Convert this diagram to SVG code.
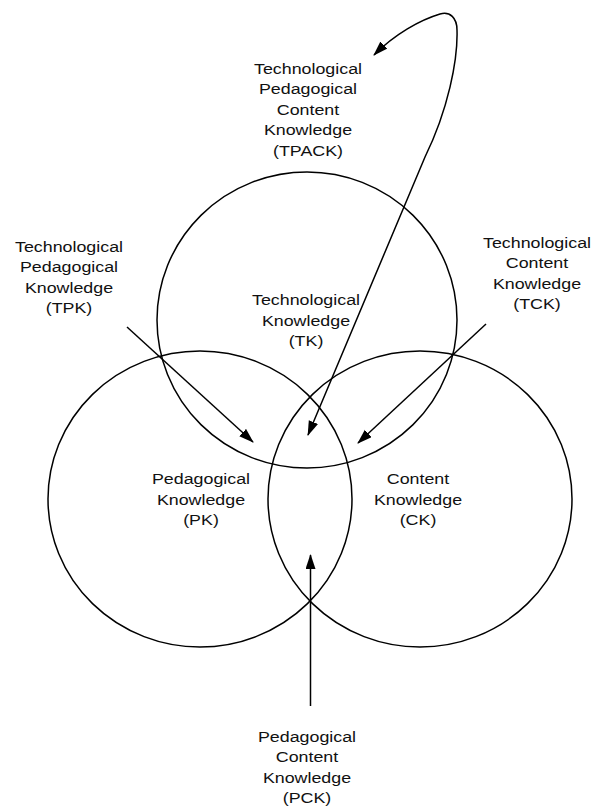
<svg xmlns="http://www.w3.org/2000/svg" width="595" height="808" viewBox="0 0 595 808">
<defs>
<style>
.c{fill:none;stroke:#000;stroke-width:1.5}
.l{fill:none;stroke:#000;stroke-width:1.5}
text{font-family:"Liberation Sans",Arial,sans-serif;font-size:15px;fill:#111;text-anchor:middle}
</style>
<marker id="ah" markerUnits="userSpaceOnUse" markerWidth="16" markerHeight="12" refX="14" refY="5" orient="auto-start-reverse" viewBox="0 0 16 12">
<path d="M0,0 L15,5 L0,10 z" fill="#000"/>
</marker>
</defs>
<rect width="595" height="808" fill="#fff"/>
<g id="tk">
<ellipse class="c" cx="307" cy="320" rx="150" ry="148"/>
<text transform="translate(306 305) scale(1.19 1)"><tspan x="0">Technological</tspan><tspan x="0" dy="20.7">Knowledge</tspan><tspan x="0" dy="20.7">(TK)</tspan></text>
</g>
<g id="pk">
<ellipse class="c" cx="200" cy="499" rx="152" ry="148"/>
<text transform="translate(201 484) scale(1.19 1)"><tspan x="0">Pedagogical</tspan><tspan x="0" dy="20.7">Knowledge</tspan><tspan x="0" dy="20.7">(PK)</tspan></text>
</g>
<g id="ck">
<ellipse class="c" cx="420" cy="499" rx="152" ry="148"/>
<text transform="translate(418 484) scale(1.19 1)"><tspan x="0">Content</tspan><tspan x="0" dy="20.7">Knowledge</tspan><tspan x="0" dy="20.7">(CK)</tspan></text>
</g>
<g id="tpack">
<text transform="translate(308 74) scale(1.19 1)"><tspan x="0">Technological</tspan><tspan x="0" dy="20.5">Pedagogical</tspan><tspan x="0" dy="20.5">Content</tspan><tspan x="0" dy="20.5">Knowledge</tspan><tspan x="0" dy="20.5">(TPACK)</tspan></text>
</g>
<g id="tpk">
<text transform="translate(69 252) scale(1.19 1)"><tspan x="0">Technological</tspan><tspan x="0" dy="20.5">Pedagogical</tspan><tspan x="0" dy="20.5">Knowledge</tspan><tspan x="0" dy="20.5">(TPK)</tspan></text>
</g>
<g id="tck">
<text transform="translate(537 248) scale(1.19 1)"><tspan x="0">Technological</tspan><tspan x="0" dy="20.5">Content</tspan><tspan x="0" dy="20.5">Knowledge</tspan><tspan x="0" dy="20.5">(TCK)</tspan></text>
</g>
<g id="pck">
<text transform="translate(307 742) scale(1.19 1)"><tspan x="0">Pedagogical</tspan><tspan x="0" dy="20.4">Content</tspan><tspan x="0" dy="20.4">Knowledge</tspan><tspan x="0" dy="20.4">(PCK)</tspan></text>
</g>
<g id="connectors">
<path class="l" d="M374 55 C395 34 420 20 440 14 C450 11 457 18 457 30 C458 60 448 110 425 157 L308 435" marker-start="url(#ah)" marker-end="url(#ah)"/>
<path class="l" d="M127 327 L253 442" marker-end="url(#ah)"/>
<path class="l" d="M486 324 L358 443" marker-end="url(#ah)"/>
<path class="l" d="M310.5 706 L310.5 555" marker-end="url(#ah)"/>
</g>
</svg>
